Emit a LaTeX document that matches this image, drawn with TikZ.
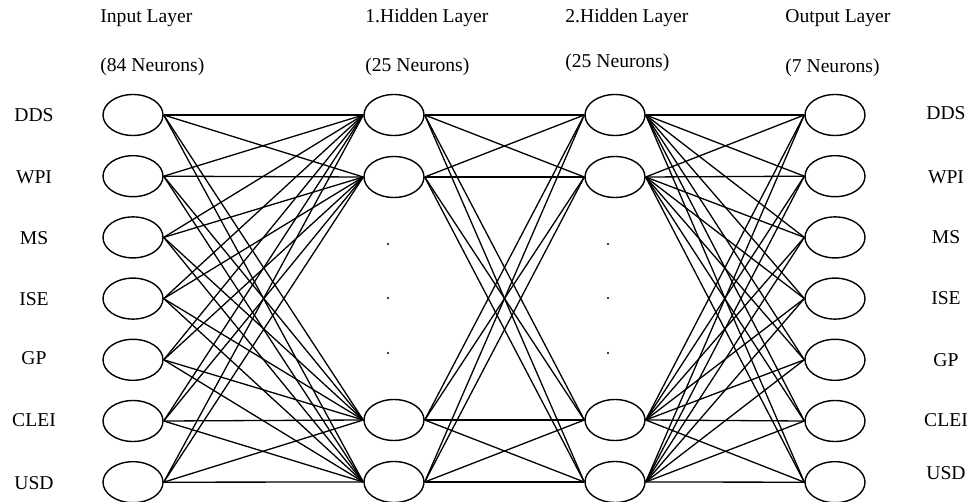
\documentclass[tikz,border=0pt]{standalone}
\usepackage{fontspec}
\setmainfont{Liberation Serif}
\usetikzlibrary{shapes.geometric}
\begin{document}
\begin{tikzpicture}[x=0.5pt,y=-0.5pt,
	neuron/.style={draw,ellipse,line width=0.7pt,minimum width=30pt,minimum height=20.5pt,inner sep=0pt},
	link/.style={line width=0.65pt},
	lbl/.style={inner sep=0pt,font=\fontsize{9.8}{11}\selectfont},
	title/.style={inner sep=0pt,anchor=base west,font=\fontsize{9.8}{11}\selectfont}]
	\useasboundingbox (0,0) rectangle (969,502);
	% layer titles
	\node[title] (tin) at (100,23) {Input Layer};
	\node[title] (nin) at (100,72) {(84 Neurons)};
	\node[title] (tha) at (365,23) {1.Hidden Layer};
	\node[title] (nha) at (365,72) {(25 Neurons)};
	\node[title] (thb) at (565,23) {2.Hidden Layer};
	\node[title] (nhb) at (565,68) {(25 Neurons)};
	\node[title] (tout) at (785,23) {Output Layer};
	\node[title] (nout) at (785,73) {(7 Neurons)};
	% input and output neurons
	\foreach \name/\ly/\ry [count=\i] in {DDS/115/113,WPI/177/177,MS/238/237,ISE/299/298,GP/358/360,CLEI/420/420,USD/483/473} {
		\node[neuron] (in\i) at (133,{115+61.2*(\i-1)}) {};
		\node[neuron] (out\i) at (835,{115+61.2*(\i-1)}) {};
		\node[lbl] (inl\i) at (34,\ly) {\name};
		\node[lbl] (outl\i) at (946,\ry) {\name};
	}
	% hidden neurons
	\foreach \j/\y in {1/115,2/177,3/420,4/482} {
		\node[neuron] (ha\j) at (394,\y) {};
		\node[neuron] (hb\j) at (615,\y) {};
	}
	\foreach \y in {244,298,353} {
		\fill (388,\y) circle (0.6pt);
		\fill (608,\y) circle (0.6pt);
	}
	% connections
	\foreach \i in {1,...,7}
		\foreach \j in {1,...,4}
			\draw[link] (in\i.east) -- (ha\j.west);
	\foreach \i in {1,...,4}
		\foreach \j in {1,...,4}
			\draw[link] (ha\i.east) -- (hb\j.west);
	\foreach \i in {1,...,4}
		\foreach \j in {1,...,7}
			\draw[link] (hb\i.east) -- (out\j.west);
\end{tikzpicture}
\end{document}
